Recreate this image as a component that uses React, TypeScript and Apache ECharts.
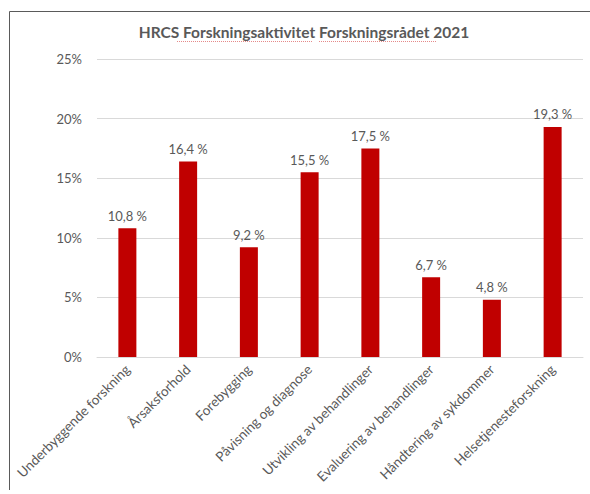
import React, { useEffect, useRef } from "react";
import * as echarts from "echarts";

const categories = [
  "Underbyggende forskning",
  "Årsaksforhold",
  "Forebygging",
  "Påvisning og diagnose",
  "Utvikling av behandlinger",
  "Evaluering av behandlinger",
  "Håndtering av sykdommer",
  "Helsetjenesteforskning",
];
const values = [10.8, 16.4, 9.2, 15.5, 17.5, 6.7, 4.8, 19.3];
const yTicks = [0, 5, 10, 15, 20, 25];
const title = "HRCS Forskningsaktivitet Forskningsrådet 2021";

const FONT = "Lato";
const GREY = "#595959";

export default function App() {
  const ref = useRef<HTMLDivElement>(null);
  useEffect(() => {
    document.body.style.margin = "0";
    const chart = echarts.init(ref.current!, null, { renderer: "svg" });
    chart.setOption({
      animation: false,
      backgroundColor: "#ffffff",
      textStyle: { fontFamily: FONT },
      graphic: [
        {
          type: "line",
          shape: { x1: 9.5, y1: 11.5, x2: 590, y2: 11.5 },
          style: { stroke: "#5a5a5a", lineWidth: 1 },
        },
        {
          type: "line",
          shape: { x1: 9.5, y1: 11.5, x2: 9.5, y2: 490 },
          style: { stroke: "#5a5a5a", lineWidth: 1 },
        },
        {
          type: "text",
          x: 304,
          y: 32,
          style: {
            text: title,
            fontFamily: FONT,
            fontSize: 15.5,
            fontWeight: "bold",
            fill: GREY,
            textAlign: "center",
            textVerticalAlign: "middle",
          },
        },
        {
          type: "line",
          shape: { x1: 177, y1: 41.5, x2: 312, y2: 41.5 },
          style: { stroke: "#e58a8a", lineWidth: 1, lineDash: [1, 1] },
        },
        {
          type: "line",
          shape: { x1: 319, y1: 41.5, x2: 437, y2: 41.5 },
          style: { stroke: "#e58a8a", lineWidth: 1, lineDash: [1, 1] },
        },
      ],
      grid: { left: 97, right: 7, top: 59, bottom: 137, containLabel: false },
      xAxis: {
        type: "category",
        data: categories,
        axisLine: { lineStyle: { color: "#d9d9d9" } },
        axisTick: { show: false },
        axisLabel: {
          rotate: 45,
          interval: 0,
          margin: 10,
          color: GREY,
          fontFamily: FONT,
          fontSize: 13.5,
        },
      },
      yAxis: {
        type: "value",
        min: yTicks[0],
        max: yTicks[yTicks.length - 1],
        interval: 5,
        axisLine: { show: false },
        axisTick: { show: false },
        splitLine: { lineStyle: { color: "#d9d9d9" } },
        axisLabel: {
          margin: 15,
          color: GREY,
          fontFamily: FONT,
          fontSize: 13,
          formatter: (v: number) => `${v}%`,
        },
      },
      series: [
        {
          type: "bar",
          data: values,
          barWidth: 18,
          itemStyle: { color: "#c00000" },
          label: {
            show: true,
            position: "top",
            distance: 6,
            color: GREY,
            fontFamily: FONT,
            fontSize: 13,
            formatter: (p: any) => `${String(p.value).replace(".", ",")} %`,
          },
        },
      ],
    });
    return () => chart.dispose();
  }, []);
  return <div ref={ref} style={{ width: 590, height: 494 }} />;
}
